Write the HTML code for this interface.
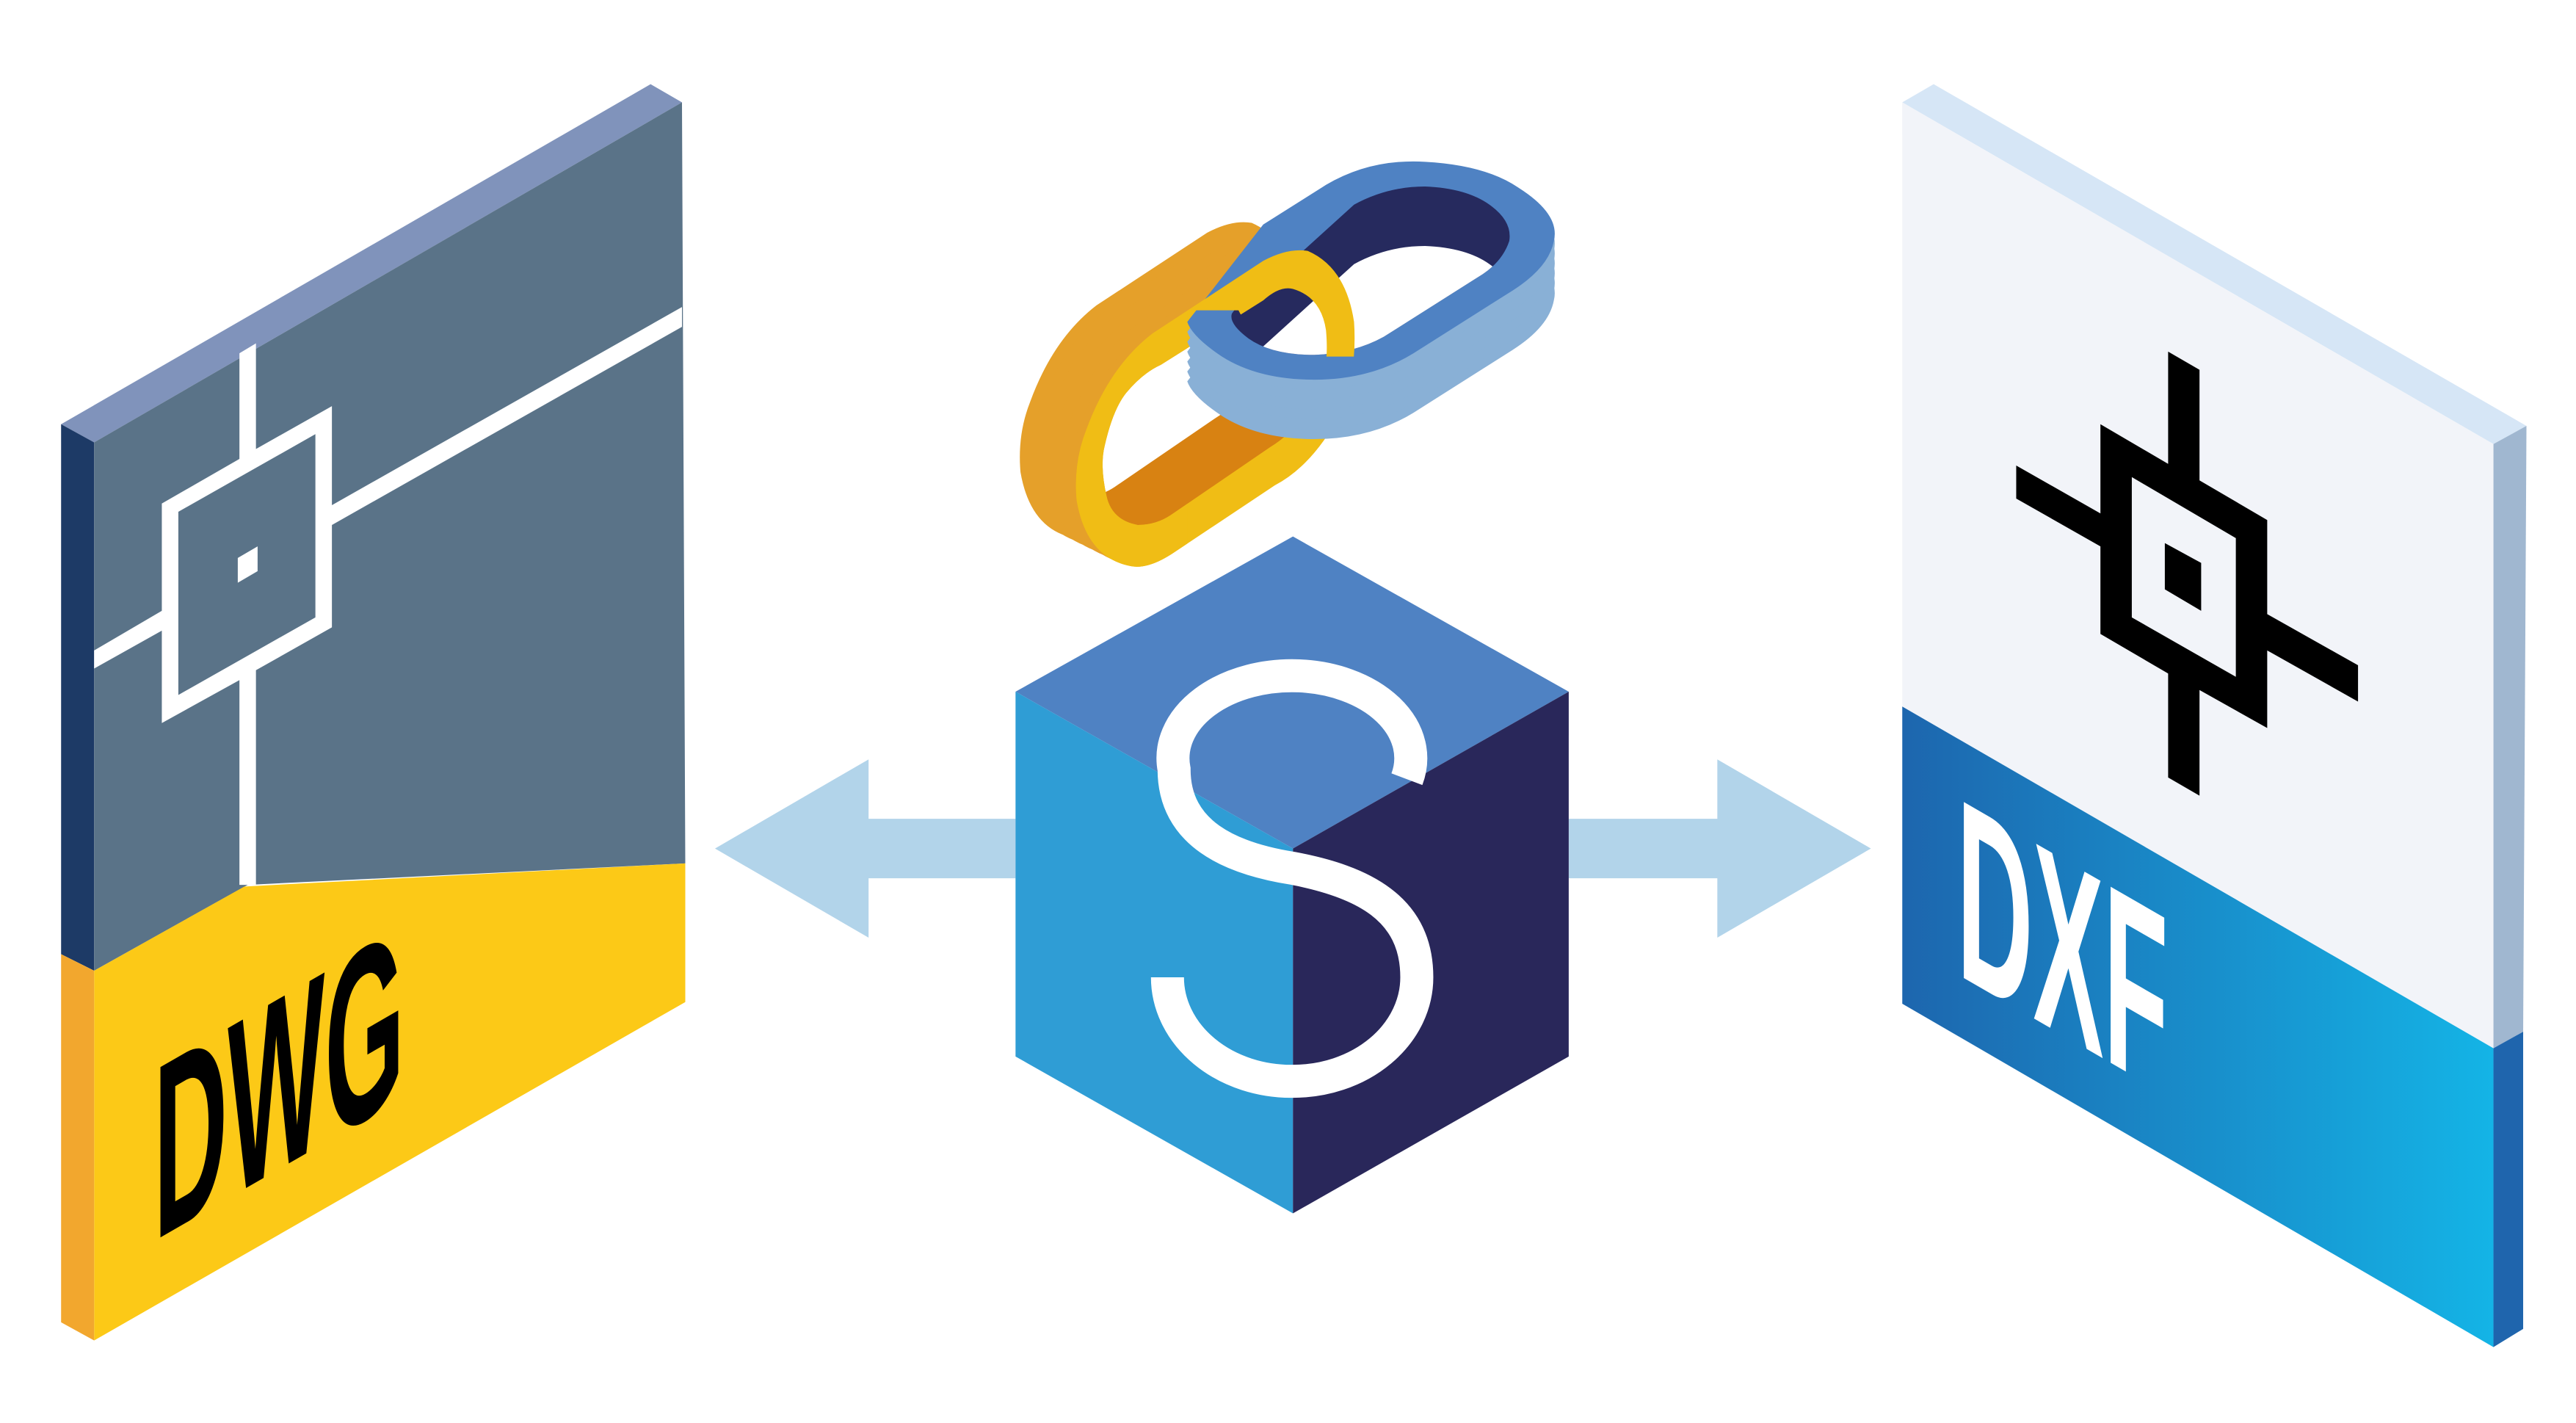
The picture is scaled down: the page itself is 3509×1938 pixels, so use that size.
<!DOCTYPE html>
<html><head><meta charset="utf-8"><style>html,body{margin:0;padding:0;background:#fff}svg{display:block}</style></head>
<body>
<svg width="3509" height="1938" viewBox="0 0 1560 862" preserveAspectRatio="none" xmlns="http://www.w3.org/2000/svg">
<defs>
<linearGradient id="g1" x1="0" y1="0" x2="1" y2="0"><stop offset="0" stop-color="#1d66ae"/><stop offset="1" stop-color="#14b4e6"/></linearGradient>
<path id="bo" d="M765,136 L803,112 Q830,96 863,98 Q900,100 920,114 Q945,130 941,146 Q938,162 916,176 L856,214 Q830,230 796,230 Q762,230 740,216 Q722,204 719,195 Z"/>
<path id="bi" d="M820,124 Q840,113 863,113 Q888,114 902,124 Q916,134 914,146 Q910,158 898,166 L838,204 Q820,214 796,215 Q770,215 756,205 Q744,196 746,190 Q750,184 756,182 Z"/>
<path id="yo" d="M765,158 Q780,150 792,152 Q815,162 820,195 Q822,225 812,250 Q795,282 772,294 L712,334 Q696,345 685,343 Q658,338 652,303 Q650,280 658,260 Q672,222 698,202 Z"/>
<path id="yi" d="M765,182 Q775,173 783,175 Q800,180 803,200 Q805,222 799,234 Q790,258 769,271 L709,312 Q700,318 689,318 Q673,315 670,300 Q666,282 669,270 Q674,248 682,238 Q692,226 703,221 Z"/>
<path id="yring" fill-rule="evenodd" d="M765,158 Q780,150 792,152 Q815,162 820,195 Q822,225 812,250 Q795,282 772,294 L712,334 Q696,345 685,343 Q658,338 652,303 Q650,280 658,260 Q672,222 698,202 Z M765,182 Q775,173 783,175 Q800,180 803,200 Q805,222 799,234 Q790,258 769,271 L709,312 Q700,318 689,318 Q673,315 670,300 Q666,282 669,270 Q674,248 682,238 Q692,226 703,221 Z"/>
<clipPath id="cbi"><use href="#bi"/></clipPath>
<clipPath id="cyi"><use href="#yi"/></clipPath>
<clipPath id="ctop"><polygon points="600,0 1000,0 1000,216 765,216 750,188 719,188 719,862 600,862"/></clipPath>
</defs>
<rect width="1560" height="862" fill="#fff"/>
<!-- DWG panel -->
<polygon points="37,257 394,51 413,62 57,268" fill="#8093bb"/>
<polygon points="37,257 57,268 57,588 37,578" fill="#1d3a66"/>
<polygon points="57,268 413,62 415,523 150,536 57,588" fill="#5a7388"/>
<polygon points="57,588 148,537 415,523 415,607 57,812" fill="#fcc917"/>
<polygon points="37,578 57,588 57,812 37,801" fill="#f2a72e"/>
<polygon points="98,305 145,278 145,214 155,208 155,272 201,246 201,306 413,186 413,198 201,318 201,380 155,406 155,536 145,536 145,412 98,438 98,382 57,405 57,394 98,370" fill="#fff"/>
<polygon points="108,310 191,263 191,374 108,421" fill="#5a7388"/>
<polygon points="144,338 156,331 156,346 144,353" fill="#fff"/>
<text transform="matrix(1,-0.577,0,1,93,752)" font-family="Liberation Sans, sans-serif" font-weight="bold" font-size="150" textLength="152" lengthAdjust="spacingAndGlyphs" fill="#000">DWG</text>
<!-- DXF panel -->
<polygon points="1152,62 1171,51 1530,258 1510,269" fill="#d6e6f6"/>
<polygon points="1510,269 1530,258 1528,625 1510,635" fill="#a0b7d0"/>
<polygon points="1510,635 1528,625 1528,805 1510,816" fill="#1f65ad"/>
<polygon points="1152,62 1510,269 1510,635 1152,428" fill="#f2f4f9"/>
<polygon points="1152,428 1510,635 1510,816 1152,608" fill="url(#g1)"/>
<polygon points="1272,257 1313,281 1313,213 1332,224 1332,291 1373,315 1373,372 1428,403 1428,425 1373,394 1373,441 1332,418 1332,482 1313,471 1313,408 1272,384 1272,331 1221,302 1221,282 1272,311" fill="#000"/>
<polygon points="1291,289 1354,326 1354,410 1291,374" fill="#f2f4f9"/>
<polygon points="1311,329 1333,341 1333,370 1311,357" fill="#000"/>
<text transform="matrix(1,0.577,0,1,1185,590)" font-family="Liberation Sans, sans-serif" font-weight="bold" font-size="155" textLength="128" lengthAdjust="spacingAndGlyphs" fill="#fff">DXF</text>
<!-- arrows -->
<polygon points="433,514 526,460 526,496 615,496 615,532 526,532 526,568" fill="#b2d4ea"/>
<polygon points="950,496 1040,496 1040,460 1133,514 1040,568 1040,532 950,532" fill="#b2d4ea"/>
<!-- cube -->
<polygon points="615,419 783,325 950,419 783,514" fill="#4f82c3"/>
<polygon points="615,419 783,514 783,735 615,640" fill="#2f9dd5"/>
<polygon points="783,514 950,419 950,640 783,735" fill="#29275a"/>
<path d="M852,472 A72,50 0 1 0 711,466 C711,505 745,520 783,526 C825,534 858,550 858,592 A75,63 0 0 1 783,655 A75,63 0 0 1 707,592" fill="none" stroke="#fff" stroke-width="20"/>
<!-- orange link -->
<g fill="#e5a02a">
<use href="#yo" transform="translate(-34,-17)"/>
<use href="#yo" transform="translate(-28,-14)"/>
<use href="#yo" transform="translate(-22,-11)"/>
<use href="#yo" transform="translate(-16,-8)"/>
<use href="#yo" transform="translate(-10,-5)"/>
<use href="#yo" transform="translate(-4,-2)"/>
</g>
<use href="#yo" fill="#f0bd15"/>
<use href="#yi" fill="#d88212"/>
<g clip-path="url(#cyi)"><use href="#yi" transform="translate(-34,-17)" fill="#fff"/></g>
<!-- blue link -->
<g fill="#89b0d6">
<use href="#bo" transform="translate(0,36)"/>
<use href="#bo" transform="translate(0,30)"/>
<use href="#bo" transform="translate(0,24)"/>
<use href="#bo" transform="translate(0,18)"/>
<use href="#bo" transform="translate(0,12)"/>
<use href="#bo" transform="translate(0,6)"/>
</g>
<use href="#bo" fill="#4f82c3"/>
<use href="#bi" fill="#262a5e"/>
<g clip-path="url(#cbi)"><use href="#bi" transform="translate(0,36)" fill="#fff"/></g>
<!-- yellow ring in front (upper part) -->
<g clip-path="url(#ctop)"><use href="#yring" fill="#f0bd15"/></g>
</svg>
</body></html>
